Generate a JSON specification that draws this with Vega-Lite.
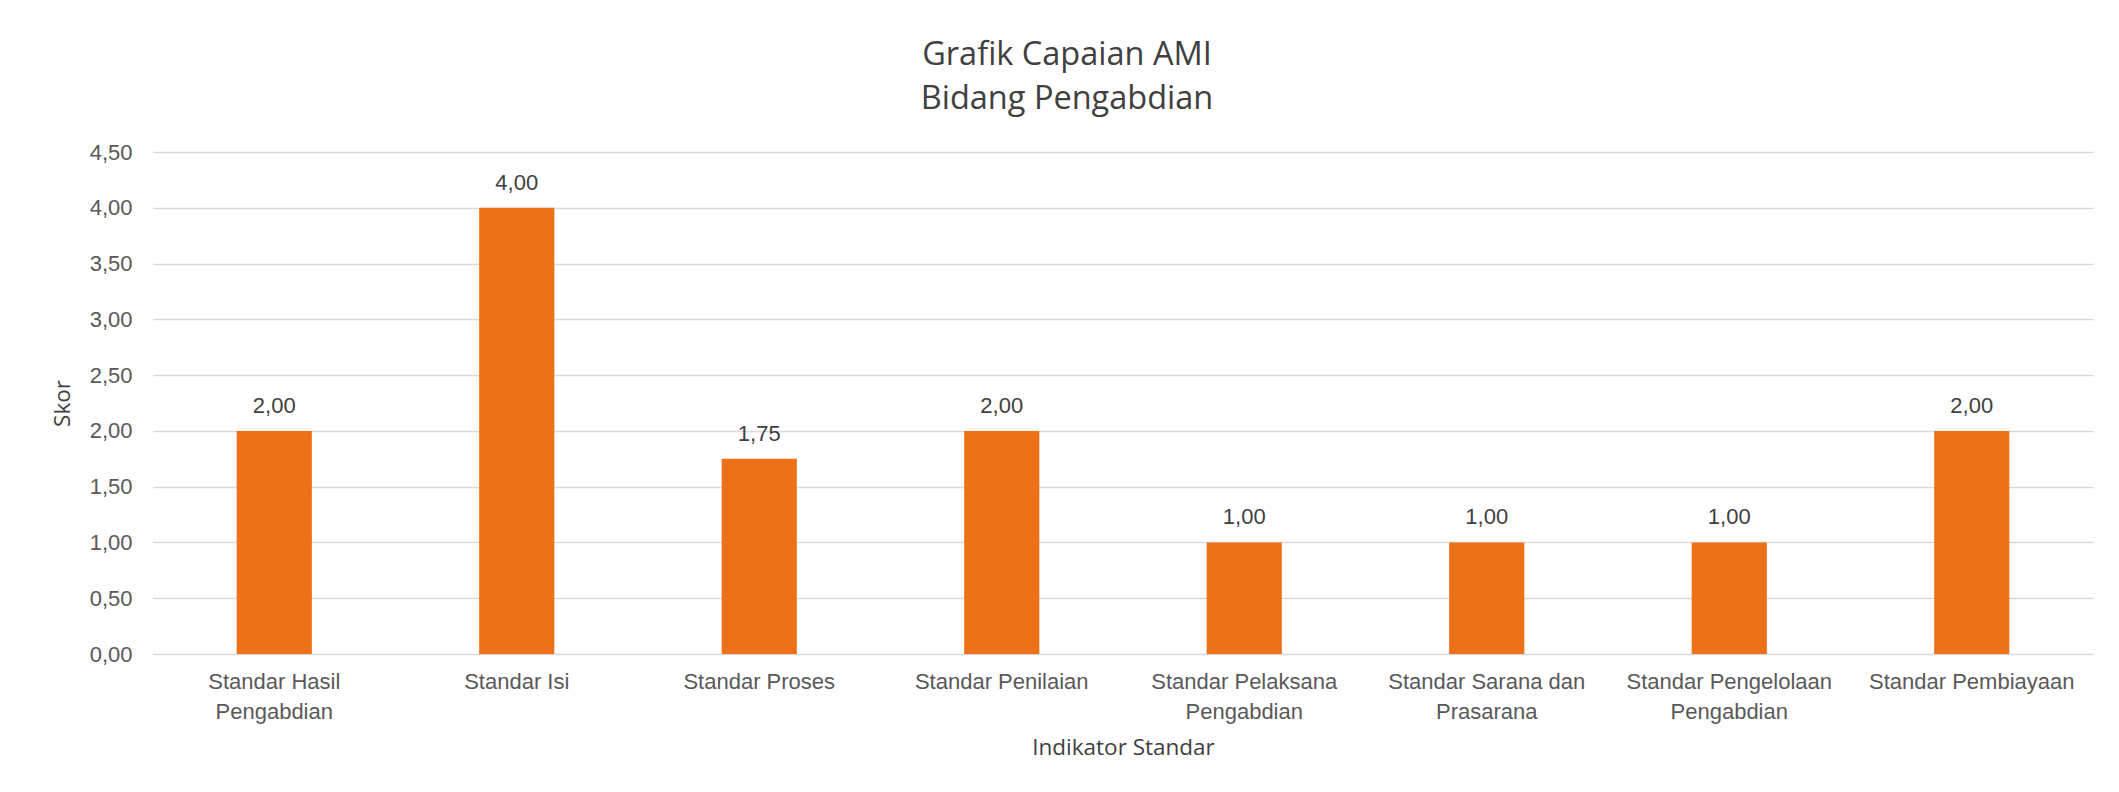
{
  "$schema": "https://vega.github.io/schema/vega-lite/v6.json",
  "width": 1940,
  "height": 502,
  "autosize": {"type": "none"},
  "padding": {"left": 153, "top": 152, "right": 26, "bottom": 138},
  "background": "white",
  "title": {
    "text": ["Grafik Capaian AMI", "Bidang Pengabdian"],
    "anchor": "middle",
    "frame": "group",
    "dx": -56,
    "offset": 26,
    "font": "Open Sans",
    "fontSize": 32.5,
    "fontWeight": "normal",
    "color": "#404040",
    "lineHeight": 44
  },
  "data": {
    "values": [
      {"indikator": "Standar Hasil Pengabdian", "skor": 2.0},
      {"indikator": "Standar Isi", "skor": 4.0},
      {"indikator": "Standar Proses", "skor": 1.75},
      {"indikator": "Standar Penilaian", "skor": 2.0},
      {"indikator": "Standar Pelaksana Pengabdian", "skor": 1.0},
      {"indikator": "Standar Sarana dan Prasarana", "skor": 1.0},
      {"indikator": "Standar Pengelolaan Pengabdian", "skor": 1.0},
      {"indikator": "Standar Pembiayaan", "skor": 2.0}
    ]
  },
  "encoding": {
    "x": {
      "field": "indikator",
      "type": "nominal",
      "sort": null,
      "scale": {"paddingInner": 0.69, "paddingOuter": 0.345},
      "axis": {
        "title": "Indikator Standar",
        "labelAngle": 0,
        "labelFont": "Liberation Sans",
        "labelFontSize": 22,
        "labelColor": "#595959",
        "labelPadding": 17,
        "labelLineHeight": 30,
        "labelLimit": 300,
        "labelExpr": "datum.value == 'Standar Hasil Pengabdian' ? ['Standar Hasil', 'Pengabdian'] : datum.value == 'Standar Pelaksana Pengabdian' ? ['Standar Pelaksana', 'Pengabdian'] : datum.value == 'Standar Sarana dan Prasarana' ? ['Standar Sarana dan', 'Prasarana'] : datum.value == 'Standar Pengelolaan Pengabdian' ? ['Standar Pengelolaan', 'Pengabdian'] : datum.label",
        "ticks": false,
        "domain": false,
        "grid": false,
        "titleFont": "Open Sans",
        "titleFontSize": 22.5,
        "titleFontWeight": "normal",
        "titleColor": "#404040",
        "titlePadding": 14
      }
    },
    "y": {
      "field": "skor",
      "type": "quantitative",
      "scale": {"domain": [0, 4.5], "nice": false},
      "axis": {
        "title": "Skor",
        "values": [0, 0.5, 1, 1.5, 2, 2.5, 3, 3.5, 4, 4.5],
        "format": ".2f",
        "labelFont": "Liberation Sans",
        "labelFontSize": 22,
        "labelColor": "#595959",
        "labelPadding": 21,
        "ticks": false,
        "domain": false,
        "grid": true,
        "gridColor": "#d9d9d9",
        "gridWidth": 1.5,
        "titleFont": "Open Sans",
        "titleFontSize": 22.5,
        "titleFontWeight": "normal",
        "titleColor": "#404040",
        "titlePadding": 15
      }
    }
  },
  "layer": [
    {"mark": {"type": "bar", "color": "#EC7118"}},
    {
      "mark": {
        "type": "text",
        "baseline": "alphabetic",
        "dy": -18,
        "font": "Liberation Sans",
        "fontSize": 22,
        "color": "#404040"
      },
      "encoding": {"text": {"field": "skor", "type": "quantitative", "format": ".2f"}}
    }
  ],
  "config": {
    "view": {"stroke": null},
    "locale": {"number": {"decimal": ",", "thousands": ".", "grouping": [3], "currency": ["Rp", ""]}}
  }
}
